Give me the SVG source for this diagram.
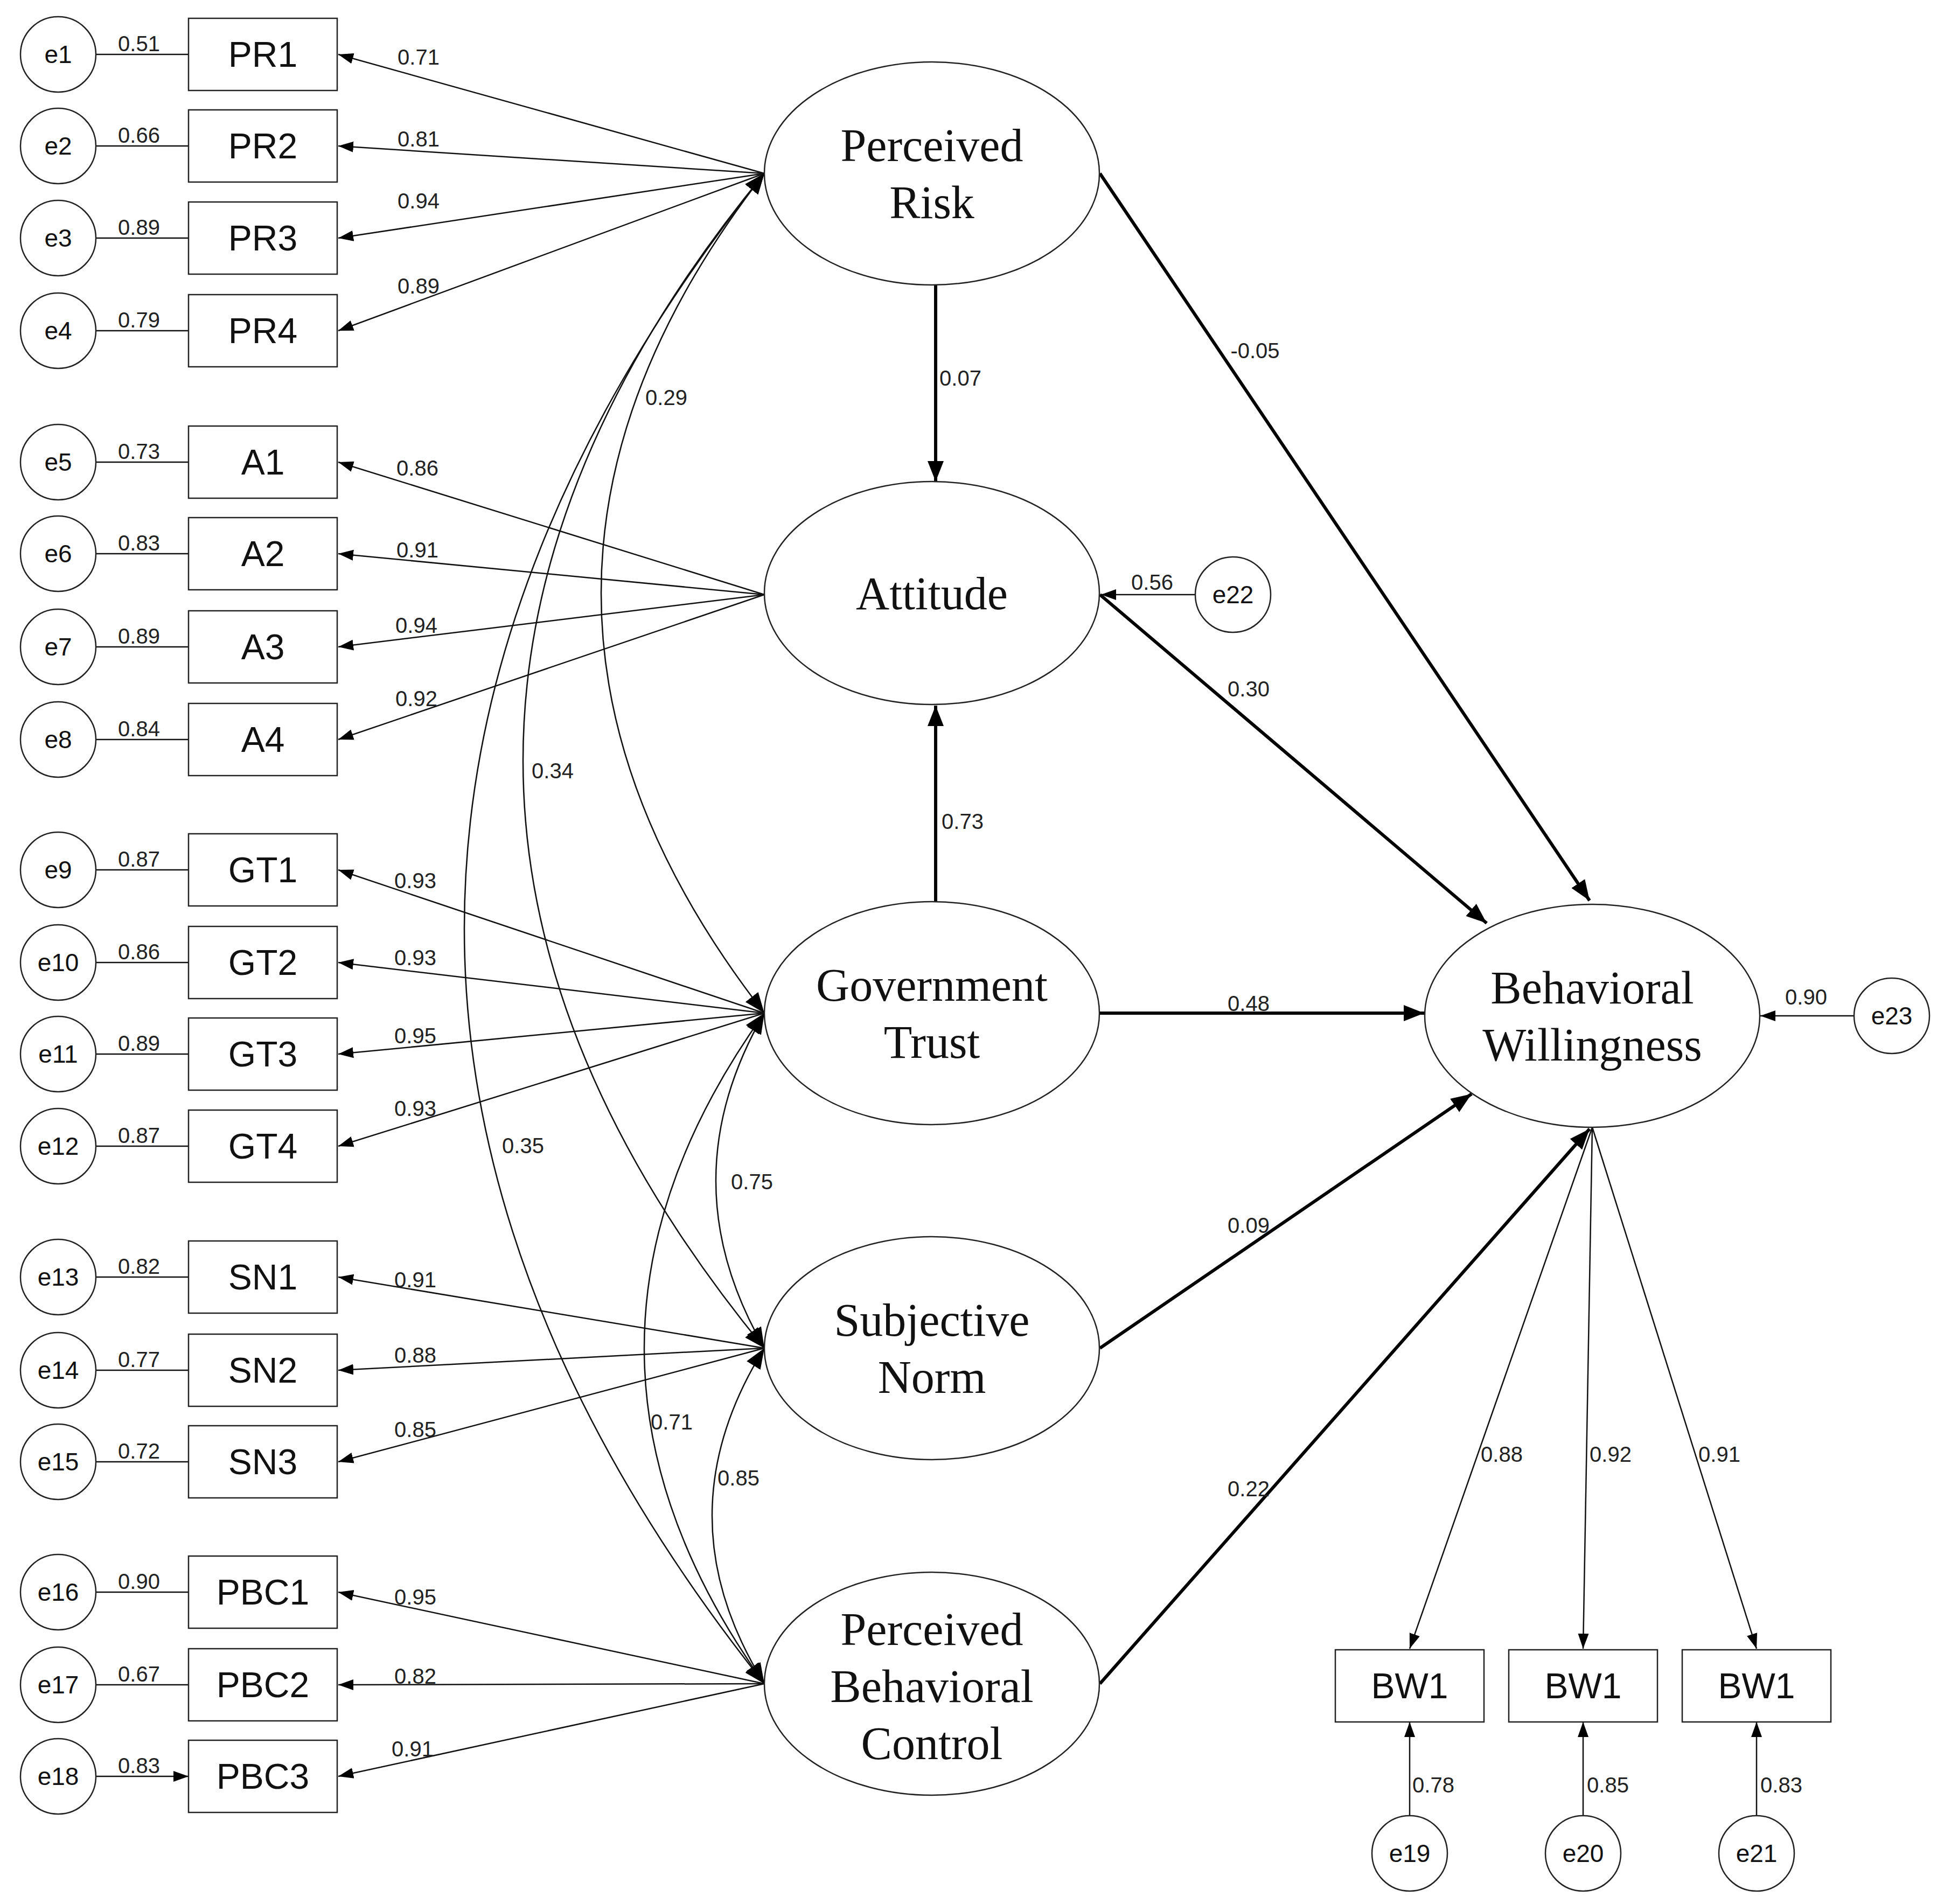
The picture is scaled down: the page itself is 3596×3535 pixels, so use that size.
<svg xmlns="http://www.w3.org/2000/svg" width="3596" height="3535" viewBox="0 0 3596 3535">
<style>
.bg{fill:#fff}
.e{fill:#fff;stroke:#222;stroke-width:2.5}
.b{fill:#fff;stroke:#222;stroke-width:2.5}
.l{fill:#fff;stroke:#222;stroke-width:2.5}
.t{fill:none;stroke:#111;stroke-width:2.5}
.k{fill:none;stroke:#000;stroke-width:6}
.et{font-family:"Liberation Sans",Arial,sans-serif;font-size:46px;text-anchor:middle;fill:#111}
.bt{font-family:"Liberation Sans",Arial,sans-serif;font-size:66px;text-anchor:middle;fill:#111}
.lt{font-family:"Liberation Serif","DejaVu Serif",serif;font-size:86px;text-anchor:middle;fill:#111}
.n{font-family:"Liberation Sans",Arial,sans-serif;font-size:40px;text-anchor:middle;fill:#222}
</style>
<defs>
<marker id="a" markerUnits="userSpaceOnUse" markerWidth="30" markerHeight="24" refX="28" refY="12" orient="auto-start-reverse"><path d="M0,2 L28,12 L0,22 Z" fill="#000"/></marker>
<marker id="h" markerUnits="userSpaceOnUse" markerWidth="40" markerHeight="34" refX="38" refY="17" orient="auto-start-reverse"><path d="M0,2 L38,17 L0,32 Z" fill="#000"/></marker>
</defs>
<rect class="bg" width="3596" height="3535"/>
<g id="connectors">
<!-- error to indicator -->
<path class="t" marker-end="url(#a)" d="M178,101H350 M178,271H350 M178,442H350 M178,614H350 M178,858H350 M178,1028H350 M178,1201H350 M178,1373H350 M178,1615H350 M178,1787H350 M178,1957H350 M178,2128H350 M178,2371H350 M178,2544H350 M178,2714H350 M178,2956H350 M178,3128H350 M178,3298H350"/>
<!-- loadings -->
<g class="t" marker-end="url(#a)">
<path d="M1419,322L628,101"/><path d="M1419,322L628,271"/><path d="M1419,322L628,442"/><path d="M1419,322L628,614"/>
<path d="M1419,1104L628,858"/><path d="M1419,1104L628,1028"/><path d="M1419,1104L628,1201"/><path d="M1419,1104L628,1373"/>
<path d="M1419,1881L628,1615"/><path d="M1419,1881L628,1787"/><path d="M1419,1881L628,1957"/><path d="M1419,1881L628,2128"/>
<path d="M1419,2503L628,2371"/><path d="M1419,2503L628,2544"/><path d="M1419,2503L628,2714"/>
<path d="M1419,3126L628,2956"/><path d="M1419,3126L628,3128"/><path d="M1419,3126L628,3298"/>
<path d="M2956,2093L2617,3061"/><path d="M2956,2093L2939,3061"/><path d="M2956,2093L3261,3061"/>
<path d="M2617,3371V3197"/><path d="M2939,3371V3197"/><path d="M3261,3371V3197"/>
<path d="M2219,1104H2044"/><path d="M3442,1886H3268"/>
</g>
<!-- covariances -->
<g class="t" marker-start="url(#h)" marker-end="url(#h)">
<path d="M1419,322Q813,1101 1419,1881"/>
<path d="M1419,322Q523,1412 1419,2503"/>
<path d="M1419,322Q305,1724 1419,3126"/>
<path d="M1419,1881Q1239,2192 1419,2503"/>
<path d="M1419,1881Q973,2503 1419,3126"/>
<path d="M1419,2503Q1225,2814 1419,3126"/>
</g>
<!-- structural -->
<g class="k" marker-end="url(#h)">
<path d="M1737,529V894"/><path d="M1737,1675V1310"/>
<path d="M2042,322L2951,1672"/><path d="M2042,1104L2760,1714"/>
<path d="M2042,1881H2644"/><path d="M2042,2503L2732,2031"/><path d="M2042,3126L2951,2096"/>
</g>
</g>
<g id="labels">
<text class="n" x="258" y="95">0.51</text><text class="n" x="258" y="265">0.66</text><text class="n" x="258" y="436">0.89</text><text class="n" x="258" y="608">0.79</text>
<text class="n" x="258" y="852">0.73</text><text class="n" x="258" y="1022">0.83</text><text class="n" x="258" y="1195">0.89</text><text class="n" x="258" y="1367">0.84</text>
<text class="n" x="258" y="1609">0.87</text><text class="n" x="258" y="1781">0.86</text><text class="n" x="258" y="1951">0.89</text><text class="n" x="258" y="2122">0.87</text>
<text class="n" x="258" y="2365">0.82</text><text class="n" x="258" y="2538">0.77</text><text class="n" x="258" y="2708">0.72</text>
<text class="n" x="258" y="2950">0.90</text><text class="n" x="258" y="3122">0.67</text><text class="n" x="258" y="3292">0.83</text>
<text class="n" x="777" y="120">0.71</text><text class="n" x="777" y="272">0.81</text><text class="n" x="777" y="387">0.94</text><text class="n" x="777" y="545">0.89</text>
<text class="n" x="775" y="883">0.86</text><text class="n" x="775" y="1035">0.91</text><text class="n" x="773" y="1175">0.94</text><text class="n" x="773" y="1311">0.92</text>
<text class="n" x="771" y="1649">0.93</text><text class="n" x="771" y="1792">0.93</text><text class="n" x="771" y="1937">0.95</text><text class="n" x="771" y="2072">0.93</text>
<text class="n" x="771" y="2390">0.91</text><text class="n" x="771" y="2530">0.88</text><text class="n" x="771" y="2668">0.85</text>
<text class="n" x="771" y="2979">0.95</text><text class="n" x="771" y="3126">0.82</text><text class="n" x="766" y="3261">0.91</text>
<text class="n" x="1237" y="752">0.29</text><text class="n" x="1026" y="1445">0.34</text><text class="n" x="971" y="2141">0.35</text>
<text class="n" x="1396" y="2208">0.75</text><text class="n" x="1247" y="2654">0.71</text><text class="n" x="1371" y="2758">0.85</text>
<text class="n" x="1783" y="716">0.07</text><text class="n" x="2330" y="665">-0.05</text><text class="n" x="2139" y="1095">0.56</text>
<text class="n" x="2318" y="1293">0.30</text><text class="n" x="1787" y="1539">0.73</text><text class="n" x="2318" y="1877">0.48</text>
<text class="n" x="2318" y="2289">0.09</text><text class="n" x="2318" y="2778">0.22</text><text class="n" x="3353" y="1865">0.90</text>
<text class="n" x="2788" y="2714">0.88</text><text class="n" x="2990" y="2714">0.92</text><text class="n" x="3192" y="2714">0.91</text>
<text class="n" x="2661" y="3328">0.78</text><text class="n" x="2985" y="3328">0.85</text><text class="n" x="3307" y="3328">0.83</text>
</g>
<g id="errors">
<circle class="e" cx="108" cy="101" r="70"/><text class="et" x="108" y="117">e1</text>
<circle class="e" cx="108" cy="271" r="70"/><text class="et" x="108" y="287">e2</text>
<circle class="e" cx="108" cy="442" r="70"/><text class="et" x="108" y="458">e3</text>
<circle class="e" cx="108" cy="614" r="70"/><text class="et" x="108" y="630">e4</text>
<circle class="e" cx="108" cy="858" r="70"/><text class="et" x="108" y="874">e5</text>
<circle class="e" cx="108" cy="1028" r="70"/><text class="et" x="108" y="1044">e6</text>
<circle class="e" cx="108" cy="1201" r="70"/><text class="et" x="108" y="1217">e7</text>
<circle class="e" cx="108" cy="1373" r="70"/><text class="et" x="108" y="1389">e8</text>
<circle class="e" cx="108" cy="1615" r="70"/><text class="et" x="108" y="1631">e9</text>
<circle class="e" cx="108" cy="1787" r="70"/><text class="et" x="108" y="1803">e10</text>
<circle class="e" cx="108" cy="1957" r="70"/><text class="et" x="108" y="1973">e11</text>
<circle class="e" cx="108" cy="2128" r="70"/><text class="et" x="108" y="2144">e12</text>
<circle class="e" cx="108" cy="2371" r="70"/><text class="et" x="108" y="2387">e13</text>
<circle class="e" cx="108" cy="2544" r="70"/><text class="et" x="108" y="2560">e14</text>
<circle class="e" cx="108" cy="2714" r="70"/><text class="et" x="108" y="2730">e15</text>
<circle class="e" cx="108" cy="2956" r="70"/><text class="et" x="108" y="2972">e16</text>
<circle class="e" cx="108" cy="3128" r="70"/><text class="et" x="108" y="3144">e17</text>
<circle class="e" cx="108" cy="3298" r="70"/><text class="et" x="108" y="3314">e18</text>
<circle class="e" cx="2617" cy="3441" r="70"/><text class="et" x="2617" y="3457">e19</text>
<circle class="e" cx="2939" cy="3441" r="70"/><text class="et" x="2939" y="3457">e20</text>
<circle class="e" cx="3261" cy="3441" r="70"/><text class="et" x="3261" y="3457">e21</text>
<circle class="e" cx="2289" cy="1104" r="70"/><text class="et" x="2289" y="1120">e22</text>
<circle class="e" cx="3512" cy="1886" r="70"/><text class="et" x="3512" y="1902">e23</text>
</g>
<g id="indicators">
<rect class="b" x="350" y="34" width="276" height="134"/><text class="bt" x="488" y="124">PR1</text>
<rect class="b" x="350" y="204" width="276" height="134"/><text class="bt" x="488" y="294">PR2</text>
<rect class="b" x="350" y="375" width="276" height="134"/><text class="bt" x="488" y="465">PR3</text>
<rect class="b" x="350" y="547" width="276" height="134"/><text class="bt" x="488" y="637">PR4</text>
<rect class="b" x="350" y="791" width="276" height="134"/><text class="bt" x="488" y="881">A1</text>
<rect class="b" x="350" y="961" width="276" height="134"/><text class="bt" x="488" y="1051">A2</text>
<rect class="b" x="350" y="1134" width="276" height="134"/><text class="bt" x="488" y="1224">A3</text>
<rect class="b" x="350" y="1306" width="276" height="134"/><text class="bt" x="488" y="1396">A4</text>
<rect class="b" x="350" y="1548" width="276" height="134"/><text class="bt" x="488" y="1638">GT1</text>
<rect class="b" x="350" y="1720" width="276" height="134"/><text class="bt" x="488" y="1810">GT2</text>
<rect class="b" x="350" y="1890" width="276" height="134"/><text class="bt" x="488" y="1980">GT3</text>
<rect class="b" x="350" y="2061" width="276" height="134"/><text class="bt" x="488" y="2151">GT4</text>
<rect class="b" x="350" y="2304" width="276" height="134"/><text class="bt" x="488" y="2394">SN1</text>
<rect class="b" x="350" y="2477" width="276" height="134"/><text class="bt" x="488" y="2567">SN2</text>
<rect class="b" x="350" y="2647" width="276" height="134"/><text class="bt" x="488" y="2737">SN3</text>
<rect class="b" x="350" y="2889" width="276" height="134"/><text class="bt" x="488" y="2979">PBC1</text>
<rect class="b" x="350" y="3061" width="276" height="134"/><text class="bt" x="488" y="3151">PBC2</text>
<rect class="b" x="350" y="3231" width="276" height="134"/><text class="bt" x="488" y="3321">PBC3</text>
<rect class="b" x="2479" y="3063" width="276" height="134"/><text class="bt" x="2617" y="3153">BW1</text>
<rect class="b" x="2801" y="3063" width="276" height="134"/><text class="bt" x="2939" y="3153">BW1</text>
<rect class="b" x="3123" y="3063" width="276" height="134"/><text class="bt" x="3261" y="3153">BW1</text>
</g>
<g id="PR"><ellipse class="l" cx="1730" cy="322" rx="311" ry="207"/><text class="lt" x="1730" y="299">Perceived</text><text class="lt" x="1730" y="405">Risk</text></g>
<g id="ATT"><ellipse class="l" cx="1730" cy="1101" rx="311" ry="207"/><text class="lt" x="1730" y="1131">Attitude</text></g>
<g id="GT"><ellipse class="l" cx="1730" cy="1881" rx="311" ry="207"/><text class="lt" x="1730" y="1858">Government</text><text class="lt" x="1730" y="1964">Trust</text></g>
<g id="SN"><ellipse class="l" cx="1730" cy="2503" rx="311" ry="207"/><text class="lt" x="1730" y="2480">Subjective</text><text class="lt" x="1730" y="2586">Norm</text></g>
<g id="PBC"><ellipse class="l" cx="1730" cy="3126" rx="311" ry="207"/><text class="lt" x="1730" y="3054">Perceived</text><text class="lt" x="1730" y="3160">Behavioral</text><text class="lt" x="1730" y="3266">Control</text></g>
<g id="BW"><ellipse class="l" cx="2956" cy="1886" rx="311" ry="207"/><text class="lt" x="2956" y="1863">Behavioral</text><text class="lt" x="2956" y="1969">Willingness</text></g>
</svg>
